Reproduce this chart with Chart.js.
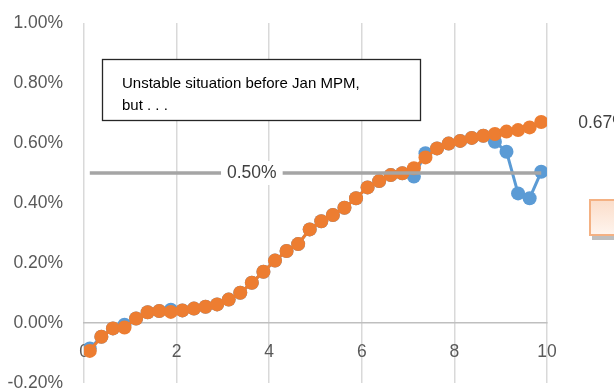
<!DOCTYPE html>
<html lang="en">
<head>
  <meta charset="UTF-8">
  <title>Chart</title>
  <script src="https://cdn.jsdelivr.net/npm/chart.js"></script>
  <style>
    body { margin: 0; background: #fff; }
    canvas { display: block; }
  </style>
</head>
<body>
  <canvas id="myChart" width="614" height="392"></canvas>
  <script>
    // x positions of the points
    const xValues = [0.125, 0.375, 0.625, 0.875, 1.125, 1.375, 1.625, 1.875, 2.125, 2.375,
                     2.625, 2.875, 3.125, 3.375, 3.625, 3.875, 4.125, 4.375, 4.625, 4.875,
                     5.125, 5.375, 5.625, 5.875, 6.125, 6.375, 6.625, 6.875, 7.125, 7.375,
                     7.625, 7.875, 8.125, 8.375, 8.625, 8.875, 9.125, 9.375, 9.625, 9.875];
    // values in percent
    const orangeValues = [-0.093, -0.046, -0.018, -0.015, 0.015, 0.036, 0.040, 0.037, 0.042, 0.048,
                          0.054, 0.062, 0.078, 0.101, 0.134, 0.171, 0.208, 0.240, 0.263, 0.312,
                          0.339, 0.360, 0.384, 0.416, 0.452, 0.473, 0.493, 0.499, 0.516, 0.552,
                          0.582, 0.598, 0.607, 0.617, 0.624, 0.630, 0.638, 0.643, 0.652, 0.670];
    const blueValues = [-0.085, -0.046, -0.018, -0.006, 0.015, 0.036, 0.040, 0.044, 0.042, 0.048,
                        0.054, 0.062, 0.078, 0.101, 0.134, 0.171, 0.208, 0.240, 0.263, 0.312,
                        0.339, 0.360, 0.384, 0.416, 0.452, 0.473, 0.493, 0.499, 0.488, 0.566,
                        0.582, 0.598, 0.607, 0.617, 0.624, 0.604, 0.571, 0.432, 0.416, 0.504];
    const refX = [0.125, 3.625, 9.875];
    const refValues = [0.5, 0.5, 0.5];
    const xTicks = [0, 2, 4, 6, 8, 10];
    const yTicks = [-0.2, 0, 0.2, 0.4, 0.6, 0.8, 1.0];
    const noteLines = ["Unstable situation before Jan MPM,", "but . . ."];

    const FONT = "'Liberation Sans', Arial, sans-serif";
    const pct = v => v.toFixed(2) + "%";
    const toPoints = (xs, ys) => xs.map((x, i) => ({ x: x, y: ys[i] }));

    const annotations = {
      id: "annotations",
      afterDatasetsDraw(chart) {
        const ctx = chart.ctx;
        ctx.save();

        // text box
        ctx.fillStyle = "#fff";
        ctx.fillRect(102, 59, 318, 61);
        ctx.strokeStyle = "#262626";
        ctx.lineWidth = 1.3;
        ctx.strokeRect(102.5, 59.5, 318, 61);
        ctx.fillStyle = "#000";
        ctx.font = "15px " + FONT;
        ctx.textAlign = "left";
        ctx.textBaseline = "alphabetic";
        ctx.fillText(noteLines[0], 122, 88);
        ctx.fillText(noteLines[1], 122, 110);

        // label on the reference line
        const p = chart.getDatasetMeta(2).data[1];
        ctx.font = "17.5px " + FONT;
        const t = pct(refValues[1]);
        const w = ctx.measureText(t).width;
        ctx.fillStyle = "#fff";
        ctx.fillRect(p.x - w / 2 - 6, p.y - 12, w + 12, 24);
        ctx.fillStyle = "#404040";
        ctx.textAlign = "center";
        ctx.textBaseline = "middle";
        ctx.fillText(t, p.x, p.y);

        // label at the last orange point
        const last = chart.getDatasetMeta(0).data[orangeValues.length - 1];
        ctx.textAlign = "left";
        ctx.fillText(pct(orangeValues[orangeValues.length - 1]), last.x + 37, last.y + 1);

        // shape cut at right edge
        ctx.fillStyle = "rgba(0,0,0,0.25)";
        ctx.fillRect(592, 202, 30, 38);
        const g = ctx.createLinearGradient(0, 199, 0, 236);
        g.addColorStop(0, "#FBDCC8");
        g.addColorStop(1, "#FFF6F0");
        ctx.fillStyle = g;
        ctx.fillRect(589, 199, 30, 37);
        ctx.strokeStyle = "#F4B183";
        ctx.lineWidth = 2;
        ctx.strokeRect(590, 200, 30, 35);
        ctx.restore();
      }
    };

    const ctx = document.getElementById("myChart").getContext("2d");
    new Chart(ctx, {
      type: "scatter",
      data: {
        datasets: [{
          data: toPoints(xValues, orangeValues),
          showLine: true,
          borderColor: "#ED7D31",
          backgroundColor: "#ED7D31",
          borderWidth: 3,
          pointRadius: 7,
          pointBorderWidth: 0
        }, {
          data: toPoints(xValues, blueValues),
          showLine: true,
          borderColor: "#5B9BD5",
          backgroundColor: "#5B9BD5",
          borderWidth: 3,
          pointRadius: 7,
          pointBorderWidth: 0
        }, {
          data: toPoints(refX, refValues),
          showLine: true,
          borderColor: "#A5A5A5",
          borderWidth: 3.5,
          pointRadius: 0,
          order: -1
        }]
      },
      options: {
        responsive: false,
        animation: false,
        devicePixelRatio: 1,
        layout: { padding: { top: 23, right: 67, bottom: 9, left: 0 } },
        plugins: { legend: { display: false }, tooltip: { enabled: false } },
        scales: {
          x: {
            type: "linear",
            position: { y: 0 },
            min: 0,
            max: 10,
            afterBuildTicks: s => { s.ticks = xTicks.map(v => ({ value: v })); },
            afterFit: s => { s.height = 0; s.paddingLeft = 0; s.paddingRight = 0; },
            grid: { color: "#D9D9D9", lineWidth: 1.5, drawTicks: false },
            border: { color: "#BFBFBF", width: 1.5 },
            ticks: { color: "#595959", font: { family: FONT, size: 17.5 }, padding: 19, callback: v => String(v) }
          },
          y: {
            min: -0.2,
            max: 1.0,
            afterBuildTicks: s => { s.ticks = yTicks.map(v => ({ value: v })); },
            afterFit: s => { s.width = 84; s.paddingTop = 0; s.paddingBottom = 0; },
            grid: { display: false, drawTicks: false },
            border: { display: false },
            ticks: { color: "#595959", font: { family: FONT, size: 17.5 }, padding: 21, callback: v => pct(v) }
          }
        }
      },
      plugins: [annotations]
    });
  </script>
</body>
</html>
